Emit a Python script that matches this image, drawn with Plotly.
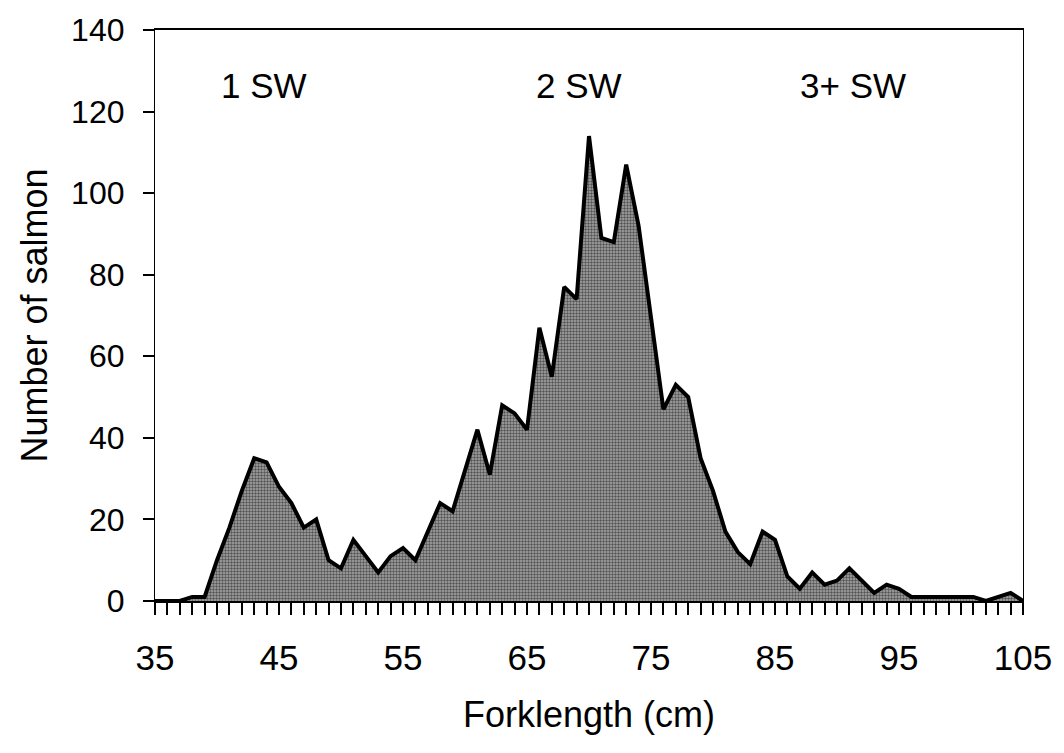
import plotly.graph_objects as go

forklength = list(range(35, 106))
counts = [0, 0, 0, 1, 1, 10, 18, 27, 35, 34,
          28, 24, 18, 20, 10, 8, 15, 11, 7, 11,
          13, 10, 17, 24, 22, 32, 42, 31, 48, 46,
          42, 67, 55, 77, 74, 114, 89, 88, 107, 92,
          70, 47, 53, 50, 35, 27, 17, 12, 9, 17,
          15, 6, 3, 7, 4, 5, 8, 5, 2, 4,
          3, 1, 1, 1, 1, 1, 1, 0, 1, 2,
          0]
age_labels = ["1 SW", "2 SW", "3+ SW"]
age_x = [43.8, 69.2, 91.3]
age_y = [126.5, 126.5, 126.5]
x_ticks = [35, 45, 55, 65, 75, 85, 95, 105]
y_ticks = [0, 20, 40, 60, 80, 100, 120, 140]

FONT = "Liberation Sans, Arial, Helvetica, sans-serif"

fig = go.Figure()
fig.add_trace(go.Scatter(
    x=forklength, y=counts, mode="lines", fill="tozeroy",
    line=dict(color="black", width=4),
    fillcolor="#6a6a6a",
    fillpattern=dict(shape=".", fgcolor="black", bgcolor="#a8a8a8",
                     size=3, solidity=0.5),
    hoverinfo="x+y", showlegend=False,
))

for t, x, y in zip(age_labels, age_x, age_y):
    fig.add_annotation(x=x, y=y, text=t, showarrow=False,
                       font=dict(family=FONT, size=35, color="black"),
                       xanchor="center", yanchor="middle")

fig.update_layout(
    width=1064, height=753,
    margin=dict(l=155, r=36, t=27, b=152),
    paper_bgcolor="white", plot_bgcolor="white",
    font=dict(family=FONT, size=32, color="black"),
)
fig.update_xaxes(
    range=[35, 105], tickmode="array", tickvals=x_ticks,
    ticks="outside", ticklen=12, tickwidth=1.5, tickcolor="black",
    minor=dict(dtick=1, tick0=35, ticks="outside", ticklen=12,
               tickwidth=1.5, tickcolor="black"),
    showline=True, linecolor="black", linewidth=1.5, mirror=True,
    showgrid=False, zeroline=False,
    ticklabelstandoff=13,
    tickfont=dict(family=FONT, size=35),
    title=dict(text="Forklength (cm)", font=dict(family=FONT, size=36),
               standoff=26),
)
fig.update_yaxes(
    range=[0, 140], tickmode="array", tickvals=y_ticks,
    ticks="outside", ticklen=11, tickwidth=1.5, tickcolor="black",
    showline=True, linecolor="black", linewidth=1.2, mirror=True,
    showgrid=False, zeroline=False,
    ticklabelstandoff=12,
    tickfont=dict(family=FONT, size=32),
    title=dict(text="Number of salmon", font=dict(family=FONT, size=36),
               standoff=12),
)

fig.write_html("out.html")
